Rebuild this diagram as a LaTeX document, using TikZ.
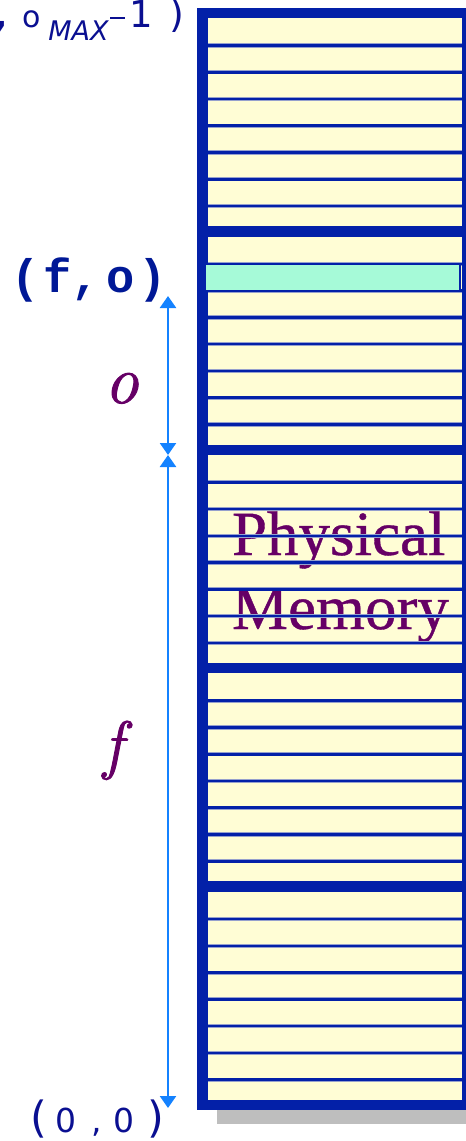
\documentclass[tikz,border=0pt]{standalone}
\usepackage{fontspec}
\usetikzlibrary{arrows.meta}
\newfontfamily\dvs{DejaVu Sans}
\newfontfamily\lmono{Liberation Mono}
\newfontfamily\lserif[FakeBold=0.6]{Liberation Serif}
\newfontfamily\lmthick[ItalicFeatures={FakeBold=1.4}]{Latin Modern Roman}
\definecolor{boxblue}{RGB}{3,32,168}
\definecolor{cellyellow}{RGB}{255,253,213}
\definecolor{hicyan}{RGB}{166,250,216}
\definecolor{arrowblue}{RGB}{20,130,255}
\definecolor{labelnavy}{RGB}{10,15,145}
\definecolor{fonavy}{RGB}{0,24,150}
\definecolor{purp}{RGB}{102,0,102}
\definecolor{fringe}{RGB}{150,160,205}
\definecolor{shadowgray}{RGB}{190,190,190}
\newcommand\placec[2]{\makebox[0pt][l]{\hspace*{#1pt}\makebox[0pt][c]{#2}}}
\begin{document}
\begin{tikzpicture}[x=1pt,y=-1pt,
  sepline/.style={draw=boxblue,line width=2.6pt},
  fringeline/.style={draw=fringe,line width=4.2pt},
  band/.style={draw=boxblue,line width=10.5pt},
  dim/.style={draw=arrowblue,line width=2.4pt,{Triangle[width=16pt,length=12pt]}-{Triangle[width=16pt,length=12pt]}},
  lbl/.style={inner sep=0pt,outer sep=0pt}]
\useasboundingbox (0,0) rectangle (466,1141);
% shadow and body
\fill[shadowgray] (217,1100) rectangle (480,1124);
\fill[cellyellow] (202.5,13) rectangle (467.5,1105);
% text under the row lines
\node[lbl,anchor=base west,text=purp] (pm) at (232,555)
  {\parbox[t]{230pt}{\lserif\fontsize{63}{74}\selectfont\raggedright Physical\\Memory}};
% row separators
\foreach \k in {0,...,4}{
  \foreach \j in {0,...,6}{
    \pgfmathsetmacro\yy{13+218.4*\k+32.5+26.75*\j}
    \draw[fringeline] (208,\yy) -- (462,\yy);
    \draw[sepline] (208,\yy) -- (462,\yy);
  }
}
% frame bands
\draw[band] (202.5,13) rectangle (467.5,1105);
\foreach \k in {1,...,4}{
  \pgfmathsetmacro\yy{13+218.4*\k}
  \draw[band] (202.5,\yy) -- (467.5,\yy);
}
% highlighted row
\filldraw[fill=hicyan,draw=boxblue,line width=1.4pt] (205,264.5) rectangle (460,290.5);
% dimension arrows
\coordinate (otop) at (168,296);
\coordinate (omid) at (168,455);
\coordinate (fbot) at (168,1108);
\draw[dim] (otop) -- (omid);
\draw[dim] (omid) -- (fbot);
% labels
\node[lbl,anchor=base west,text=labelnavy] (maxlab) at (0,27.5)
  {\dvs\fontsize{32}{32}\selectfont\placec{1}{\bfseries ,}\placec{31.5}{\fontsize{30}{30}\selectfont o}\placec{78}{\raisebox{-13pt}{\fontsize{27}{27}\selectfont\itshape MAX}}\placec{117.5}{\rule[8.5pt]{15pt}{1.8pt}}\placec{141}{\fontsize{37}{37}\selectfont 1}\placec{176.5}{\fontsize{38}{38}\selectfont )}};
\node[lbl,anchor=base west,text=fonavy] (fo) at (0,292)
  {\lmono\bfseries\fontsize{47}{47}\selectfont\placec{25.5}{(}\placec{57.5}{f}\placec{85}{,}\placec{120}{o}\placec{152}{)}};
\node[lbl,anchor=base west,text=labelnavy] (zero) at (0,1132)
  {\dvs\fontsize{33}{33}\selectfont\placec{38}{\fontsize{43}{43}\selectfont (}\placec{65}{0}\placec{96}{,}\placec{123.5}{0}\placec{155}{\fontsize{43}{43}\selectfont )}};
\node[lbl,anchor=base,text=purp] (olab) at (121.5,403) {\lmthick\fontsize{68}{68}\selectfont\itshape o};
\node[lbl,anchor=base,text=purp] (flab) at (113,766.6) {\lmthick\fontsize{65}{65}\selectfont\itshape f};
\end{tikzpicture}
\end{document}
